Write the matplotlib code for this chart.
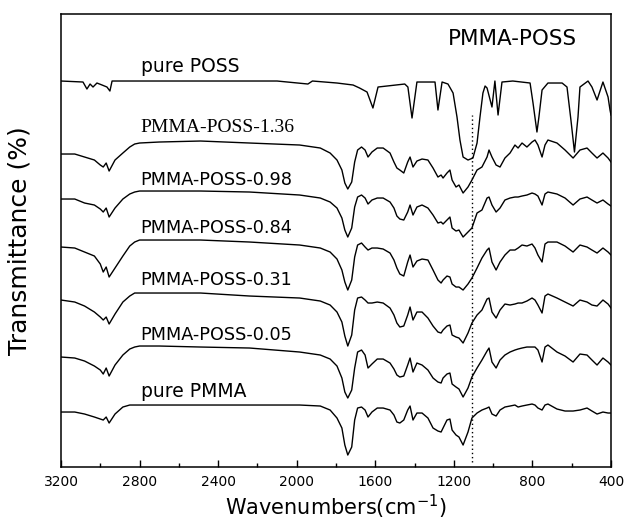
import numpy as np
import matplotlib
matplotlib.use('Agg')
from matplotlib import pyplot as plt

plt.rcParams['font.family'] = 'DejaVu Sans'

# wavenumber grid (cm-1) shared by the PMMA based spectra
wn = [3200, 3130, 3080, 3030, 3000, 2985, 2970, 2955, 2925, 2885,
      2850, 2825, 2800, 2700, 2490, 2240, 1985, 1880, 1830, 1795,
      1770, 1755, 1740, 1720, 1705, 1690, 1670, 1652, 1637, 1617,
      1590, 1560, 1525, 1505, 1490, 1475, 1455, 1435, 1423, 1408,
      1388, 1362, 1332, 1306, 1281, 1265, 1255, 1235, 1220, 1209,
      1189, 1174, 1153, 1128, 1108, 1082, 1057, 1031, 1021, 1006,
      985, 965, 940, 914, 889, 873, 853, 828, 802, 787,
      772, 751, 736, 721, 675, 634, 593, 558, 522, 497,
      471, 441, 415, 400]

# transmittance (a.u., stacked)
pmma_poss_136 = [313, 313, 310, 307, 302, 300, 304, 296, 307, 314,
                 320, 323, 324, 325, 326, 324, 322, 319, 314, 307,
                 297, 284, 278, 285, 305, 317, 320, 317, 310, 315,
                 319, 319, 314, 305, 299, 297, 294, 305, 310, 300,
                 306, 308, 307, 299, 290, 292, 289, 294, 297, 287,
                 280, 282, 274, 280, 287, 297, 300, 310, 317, 310,
                 302, 300, 309, 314, 322, 319, 324, 320, 325, 327,
                 322, 310, 322, 327, 324, 317, 309, 317, 319, 314,
                 309, 314, 309, 305]
pmma_poss_098 = [268, 268, 264, 262, 258, 255, 259, 250, 259, 268,
                 273, 275, 276, 276, 276, 275, 272, 269, 265, 259,
                 249, 237, 230, 239, 260, 270, 272, 269, 263, 267,
                 269, 269, 265, 259, 251, 248, 247, 255, 262, 252,
                 260, 262, 259, 252, 244, 245, 243, 247, 250, 239,
                 236, 237, 230, 235, 239, 254, 257, 269, 270, 262,
                 255, 259, 267, 269, 270, 270, 271, 272, 274, 273,
                 271, 262, 273, 275, 273, 269, 262, 268, 270, 267,
                 264, 267, 263, 261]
pmma_poss_084 = [220, 219, 215, 211, 203, 195, 200, 190, 199, 211,
                 221, 225, 227, 227, 227, 225, 222, 219, 215, 208,
                 197, 185, 177, 187, 210, 222, 224, 220, 217, 219,
                 219, 218, 214, 207, 199, 193, 191, 205, 212, 200,
                 206, 208, 207, 197, 187, 184, 187, 191, 190, 183,
                 180, 180, 177, 183, 189, 199, 209, 217, 219, 205,
                 197, 205, 212, 217, 217, 219, 222, 221, 223, 219,
                 212, 205, 223, 225, 225, 221, 215, 222, 220, 217,
                 214, 219, 215, 212]
pmma_poss_031 = [167, 165, 161, 155, 150, 147, 150, 143, 153, 165,
                 171, 174, 174, 174, 174, 171, 169, 166, 162, 155,
                 145, 131, 121, 132, 157, 169, 170, 167, 164, 164,
                 165, 164, 159, 152, 144, 140, 141, 152, 160, 147,
                 155, 155, 149, 141, 135, 134, 137, 141, 142, 132,
                 130, 129, 124, 134, 144, 152, 157, 168, 169, 155,
                 149, 157, 163, 162, 163, 164, 164, 166, 169, 167,
                 162, 154, 171, 173, 169, 165, 161, 167, 165, 162,
                 161, 167, 163, 159]
pmma_poss_005 = [110, 109, 106, 101, 97, 93, 99, 91, 102, 112,
                 118, 120, 121, 121, 120, 119, 115, 112, 108, 101,
                 89, 75, 69, 77, 99, 115, 117, 112, 99, 103,
                 108, 108, 104, 98, 92, 90, 91, 102, 109, 95,
                 104, 102, 97, 89, 85, 84, 89, 93, 94, 83,
                 80, 78, 70, 79, 90, 99, 107, 116, 119, 105,
                 99, 107, 112, 115, 117, 118, 119, 120, 120, 120,
                 117, 105, 120, 122, 115, 111, 105, 113, 112, 107,
                 102, 109, 105, 102]
pure_pmma = [55, 55, 53, 50, 48, 47, 50, 44, 53, 60,
             62, 62, 62, 62, 62, 62, 62, 61, 57, 49,
             39, 22, 12, 20, 47, 59, 60, 57, 50, 55,
             59, 59, 57, 52, 45, 44, 47, 57, 61, 47,
             54, 54, 49, 39, 36, 35, 39, 47, 48, 37,
             32, 30, 22, 35, 49, 54, 57, 59, 60, 53,
             51, 57, 60, 61, 62, 60, 61, 62, 63, 62,
             59, 57, 62, 63, 58, 56, 56, 57, 59, 56,
             53, 55, 54, 54]

# pure POSS has its own sharp bands
wn_poss = [3200, 3088, 3068, 3052, 3037, 3017, 2991, 2966, 2951, 2940,
           2700, 2400, 2100, 1943, 1920, 1795, 1713, 1680, 1642, 1612,
           1586, 1450, 1434, 1413, 1388, 1296, 1281, 1260, 1230, 1204,
           1184, 1169, 1153, 1128, 1103, 1082, 1067, 1052, 1041, 1031,
           1006, 991, 975, 955, 900, 812, 797, 777, 767, 751,
           721, 649, 624, 604, 586, 568, 558, 517, 497, 471,
           441, 415, 405, 400]
pure_poss = [386, 385, 378, 383, 380, 384, 382, 380, 376, 386,
             386, 386, 386, 383, 386, 384, 382, 379, 375, 359,
             380, 383, 380, 349, 385, 385, 357, 385, 383, 374,
             350, 327, 310, 307, 309, 324, 350, 374, 381, 379,
             360, 386, 352, 385, 386, 384, 364, 335, 350, 377,
             384, 384, 380, 347, 315, 350, 380, 386, 380, 367,
             385, 370, 357, 352]

spectra = [pure_poss, pmma_poss_136, pmma_poss_098, pmma_poss_084,
           pmma_poss_031, pmma_poss_005, pure_pmma]
labels = ['pure POSS', 'PMMA-POSS-1.36', 'PMMA-POSS-0.98', 'PMMA-POSS-0.84',
          'PMMA-POSS-0.31', 'PMMA-POSS-0.05', 'pure PMMA']
label_y = [395, 335, 282, 234, 182, 127, 70]
marker_wn = 1106

fig = plt.figure(figsize=(6.25, 5.21), dpi=100)
ax = fig.add_axes([0.0976, 0.1036, 0.88, 0.8695])

for i, (s, lab, ly) in enumerate(zip(spectra, labels, label_y)):
    x = wn_poss if i == 0 else wn
    ax.plot(x, s, color='black', lw=1.0, solid_joinstyle='round')
    if lab == 'PMMA-POSS-1.36':
        fam, fs = 'Liberation Serif', 14
    elif lab.startswith('pure'):
        fam, fs = 'DejaVu Sans', 13.5
    else:
        fam, fs = 'DejaVu Sans', 12.7
    ax.text(2795, ly, lab, fontsize=fs, family=fam, va='baseline', ha='left')

ax.vlines(marker_wn, 5, 352, colors='black', linestyles=(0, (1, 2)), lw=1)
ax.text(1232, 422, 'PMMA-POSS', fontsize=15.5, va='baseline', ha='left')

ax.set_xlim(3200, 400)
ax.set_ylim(0, 453)
ax.set_xticks(np.arange(3200, 399, -400))
ax.set_xticks(np.arange(3000, 399, -400), minor=True)
ax.tick_params(axis='x', which='major', direction='in', length=5, width=1.0,
               labelsize=10, pad=6)
ax.tick_params(axis='x', which='minor', direction='in', length=3, width=1.0)
ax.set_yticks([])
for sp in ax.spines.values():
    sp.set_linewidth(1.1)

ax.set_xlabel('Wavenumbers(cm$^{\\mathregular{-1}}$)', fontsize=15)
ax.xaxis.set_label_coords(0.5, -0.058)
ax.set_ylabel('Transmittance (%)', fontsize=18)
ax.yaxis.set_label_coords(-0.054, 0.5)

fig.savefig('out.png', dpi=100)
